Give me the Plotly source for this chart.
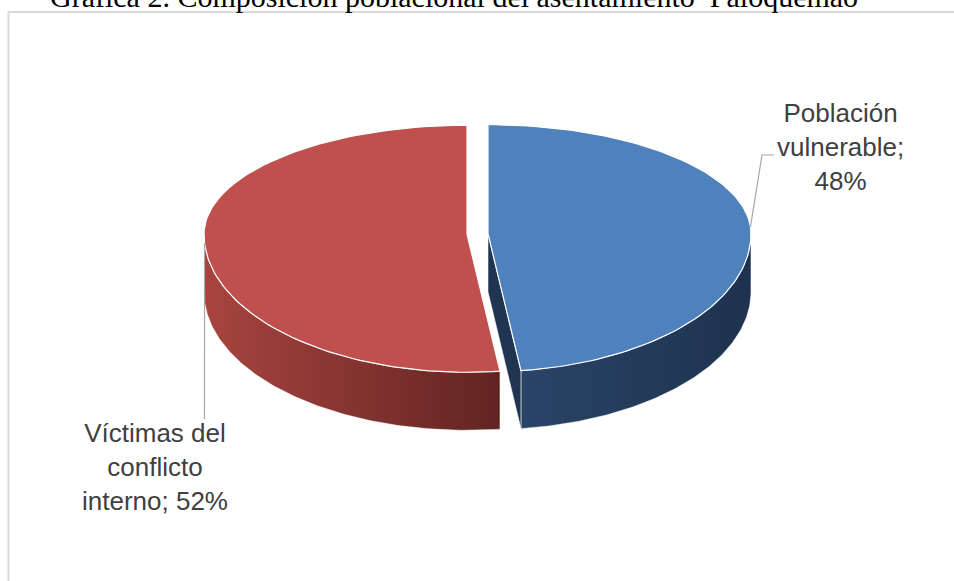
import math
import plotly.graph_objects as go

# ---- data ----
categories = ["Población vulnerable", "Víctimas del conflicto interno"]
values = [48, 52]
label_texts = ["Población<br>vulnerable;<br>48%", "Víctimas del<br>conflicto<br>interno; 52%"]
title_text = "Gráfica 2. Composición poblacional del asentamiento  Paloquemao"

# ---- styling / geometry ----
W, H = 954, 581
cx, cy = 477.5, 234.0
rx, ry_top, ry_bot = 263.0, 109.0, 138.0
depth = 58.0
explode = 10.5
top_colors = ["#4F81BD", "#C0504D"]
side_scales = [
    [[0, "#2A4468"], [1, "#1D324E"]],
    [[0, "#A8443F"], [1, "#612422"]],
]
cut_colors = ["#1F3552", "#7A2E2C"]
label_pos = [(840, 147), (155, 467)]
leader_elbow = [[(762, 155), (774, 155)], [(204.5, 419)]]


def proj(theta, ox, oy, dz=0.0):
    t = math.radians(theta)
    s, c = math.sin(t), math.cos(t)
    y = cy + oy - (ry_top * c if c >= 0 else ry_bot * c) + dz
    return cx + ox + rx * s, y


def arc(a0, a1, ox, oy, dz=0.0, n=120):
    pts = []
    for i in range(n + 1):
        a = a0 + (a1 - a0) * i / n
        pts.append(proj(a, ox, oy, dz))
    return pts


total = sum(values)
slices = []
start = 0.0
for i, v in enumerate(values):
    sweep = 360.0 * v / total
    a0, a1 = start, start + sweep
    mid = math.radians((a0 + a1) / 2)
    ox = explode * math.sin(mid)
    oy = -explode * math.cos(mid) * ry_top / rx
    slices.append((a0, a1, ox, oy))
    start = a1

fig = go.Figure()

# sides (front-facing outer walls)
for i, (a0, a1, ox, oy) in enumerate(slices):
    s0, s1 = max(a0, 90.0), min(a1, 270.0)
    if s1 > s0:
        topa = arc(s0, s1, ox, oy)
        bota = arc(s1, s0, ox, oy, depth)
        pts = topa + bota + [topa[0]]
        fig.add_trace(go.Scatter(
            x=[p[0] for p in pts], y=[p[1] for p in pts], mode="lines",
            fill="toself", fillgradient=dict(type="horizontal", colorscale=side_scales[i]),
            line=dict(color="rgba(255,255,255,0.6)", width=0.8), hoverinfo="skip", showlegend=False))

# cut faces visible to the viewer
for i, (a0, a1, ox, oy) in enumerate(slices):
    for edge, sign in ((a0, -1), (a1, 1)):
        t = math.radians(edge)
        front = sign * math.sin(t)
        if front > 0.01:
            apx, apy = cx + ox, cy + oy
            e = proj(edge, ox, oy)
            pts = [(apx, apy), e, (e[0], e[1] + depth), (apx, apy + depth), (apx, apy)]
            fig.add_trace(go.Scatter(
                x=[p[0] for p in pts], y=[p[1] for p in pts], mode="lines",
                fill="toself", fillcolor=cut_colors[i],
                line=dict(color="rgba(255,255,255,0.7)", width=0.8), hoverinfo="skip", showlegend=False))

# top faces
for i, (a0, a1, ox, oy) in enumerate(slices):
    apx, apy = cx + ox, cy + oy
    pts = [(apx, apy)] + arc(a0, a1, ox, oy) + [(apx, apy)]
    fig.add_trace(go.Scatter(
        x=[p[0] for p in pts], y=[p[1] for p in pts], mode="lines",
        fill="toself", fillcolor=top_colors[i],
        line=dict(color="white", width=1.2), hoverinfo="skip", showlegend=False))

# leader lines and labels
for i, (a0, a1, ox, oy) in enumerate(slices):
    m = (a0 + a1) / 2
    p = proj(m, ox, oy)
    pts = [p] + leader_elbow[i]
    fig.add_trace(go.Scatter(
        x=[q[0] for q in pts], y=[q[1] for q in pts], mode="lines",
        line=dict(color="#A6A6A6", width=1.2), hoverinfo="skip", showlegend=False))
    fig.add_annotation(x=label_pos[i][0], y=label_pos[i][1], text=label_texts[i],
                       showarrow=False, xanchor="center", yanchor="middle", align="center",
                       font=dict(family="Liberation Sans, Arial", size=26, color="#404040"))

# title (partly cut off at top, as in the source)
fig.add_annotation(x=454, y=15, text=title_text, showarrow=False, xanchor="center", yanchor="bottom",
                   font=dict(family="Liberation Serif, Times New Roman", size=30, color="#000000"))

# chart frame
fig.add_shape(type="rect", x0=8.5, y0=12, x1=1100, y1=900,
              line=dict(color="#D9D9D9", width=2), fillcolor="rgba(0,0,0,0)", layer="below")

fig.update_layout(
    width=W, height=H, margin=dict(l=0, r=0, t=0, b=0),
    paper_bgcolor="white", plot_bgcolor="white",
    xaxis=dict(range=[0, W], visible=False, fixedrange=True),
    yaxis=dict(range=[H, 0], visible=False, fixedrange=True),
    showlegend=False,
)

fig.write_html("out.html")
